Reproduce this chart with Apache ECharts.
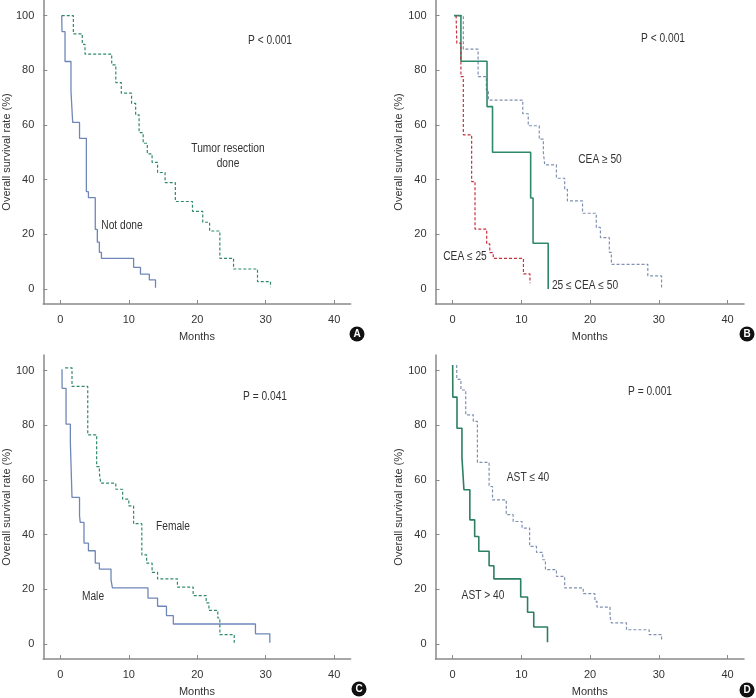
<!DOCTYPE html>
<html><head><meta charset="utf-8">
<script src="https://cdn.jsdelivr.net/npm/echarts@6/dist/echarts.min.js"></script>
<style>html,body{margin:0;padding:0;background:#fff}#c{width:756px;height:698px}</style>
</head><body><div id="c"></div><script>
// tick labels
const xTicks = [0, 10, 20, 30, 40];
const yTicks = [0, 20, 40, 60, 80, 100];
const xName = 'Months';
const yName = 'Overall survival rate (%)';

// Panel A
const notDoneT = [0.2, 0.24, 0.68, 1.55, 1.8, 2.8, 3.8, 4.1, 5.1, 5.4, 5.7, 6.0, 10.7, 11.7, 13.0, 13.9];
const notDoneS = [100, 94.1, 83.2, 72.4, 60.9, 55.1, 35.6, 33.4, 21.8, 17.1, 13.4, 11.2, 7.9, 5.4, 3.3, 0.4];
const doneT = [0.2, 1.9, 3.2, 3.6, 7.5, 8.1, 8.9, 10.4, 11.0, 11.5, 12.1, 12.7, 13.4, 14.2, 15.3, 16.8, 19.3, 20.8, 21.8, 23.3, 25.3, 28.8, 30.7];
const doneS = [100, 93.3, 89.5, 85.9, 82.0, 75.5, 71.6, 67.9, 63.7, 57.2, 53.3, 49.4, 46.3, 42.6, 38.9, 32.0, 28.4, 24.4, 21.2, 11.2, 7.3, 2.7, 0.6];

// Panel B
const ceaLowT = [0.5, 0.6, 1.2, 1.55, 2.76, 3.25, 4.95, 5.4, 5.9, 10.3, 11.25];
const ceaLowS = [100, 89.9, 77.7, 56.4, 39.3, 21.9, 16.5, 13.3, 11.2, 5.5, 2.1];
const ceaMidT = [0.2, 1.2, 5.0, 5.8, 11.35, 11.7, 13.9];
const ceaMidS = [100, 83.3, 66.7, 50.0, 33.3, 16.7, 0];
const ceaHighT = [0.2, 1.55, 3.7, 4.9, 5.2, 10.2, 11.0, 12.6, 13.2, 13.4, 15.1, 16.3, 16.7, 18.9, 20.9, 21.5, 22.8, 23.1, 28.4, 30.4];
const ceaHighS = [100, 87.7, 77.7, 72.8, 69.1, 64.1, 59.7, 54.8, 49.9, 45.4, 40.5, 36.4, 32.2, 27.7, 22.5, 18.8, 13.4, 9.0, 4.8, 0.3];

// Panel C
const maleT = [0.24, 0.26, 0.83, 1.46, 1.7, 2.8, 2.9, 3.45, 4.1, 5.1, 5.7, 7.4, 7.6, 12.8, 14.2, 15.5, 16.5, 28.5, 30.6];
const maleS = [100.5, 93.5, 80.4, 73.7, 53.6, 46.9, 44.5, 36.9, 34.1, 29.6, 27.4, 23.5, 20.5, 16.8, 13.8, 10.4, 7.3, 3.7, 0.4];
const femaleT = [0.7, 1.7, 4.0, 5.3, 5.7, 5.9, 8.1, 9.1, 10.0, 10.7, 11.9, 12.6, 13.4, 14.2, 17.1, 19.4, 21.3, 21.7, 23.0, 23.3, 25.4];
const femaleS = [101, 94.2, 76.5, 64.9, 62.5, 58.8, 56.6, 53.0, 50.5, 44.0, 32.6, 29.6, 26.2, 23.8, 20.8, 17.7, 15.0, 12.3, 9.5, 3.4, 0.4];

// Panel D
const astHighT = [0.0, 0.02, 0.63, 1.35, 1.64, 2.5, 3.2, 3.8, 5.3, 6.0, 9.9, 10.9, 11.8, 13.8];
const astHighS = [102, 90.3, 78.9, 68.2, 56.4, 45.4, 39.3, 33.9, 28.6, 23.8, 17.2, 11.6, 6.2, 0.6];
const astLowT = [0.58, 0.6, 1.2, 1.9, 3.0, 3.6, 5.3, 5.8, 7.8, 8.8, 10.1, 11.2, 12.2, 13.1, 13.5, 15.1, 16.3, 19.0, 20.7, 21.0, 22.9, 23.1, 25.3, 28.6, 30.4];
const astLowS = [102, 96.8, 92.9, 83.8, 81.4, 66.4, 57.6, 52.7, 47.3, 44.8, 42.4, 35.7, 33.5, 30.8, 27.2, 24.7, 20.5, 18.4, 15.6, 13.5, 10.1, 7.7, 5.2, 3.4, 1.0];

const FONT = '"Liberation Sans Narrow", "Liberation Sans", Arial, sans-serif';
const TXT = '#333333';
const AX = '#8a8a8a';

const grids = [
  {left: 42.1, top: 0, width: 308.5, height: 304},
  {left: 435.5, top: 0, width: 308.5, height: 304},
  {left: 42.1, top: 355, width: 308.5, height: 304.3},
  {left: 435.5, top: 355, width: 308.5, height: 304.3}
];

function xAx(i) {
  return {
    type: 'value', gridIndex: i, min: -2.5, max: 42.4,
    name: xName, nameLocation: 'middle', nameGap: 27,
    nameTextStyle: {color: TXT, fontFamily: FONT, fontSize: 11},
    axisLine: {onZero: false, lineStyle: {color: AX, width: 1.5}},
    axisTick: {inside: true, length: 4, customValues: xTicks, lineStyle: {color: AX, width: 1}},
    axisLabel: {customValues: xTicks, margin: 10, color: TXT, fontFamily: FONT, fontSize: 11},
    splitLine: {show: false}
  };
}
function yAx(i) {
  return {
    type: 'value', gridIndex: i, min: -5.5, max: 105.7,
    name: yName, nameLocation: 'middle', nameGap: 31,
    nameTextStyle: {color: TXT, fontFamily: FONT, fontSize: 11},
    axisLine: {onZero: false, lineStyle: {color: AX, width: 1.5}},
    axisTick: {inside: true, length: 4, customValues: yTicks, lineStyle: {color: AX, width: 1}},
    axisLabel: {customValues: yTicks, margin: 9, color: TXT, fontFamily: FONT, fontSize: 11},
    splitLine: {show: false}
  };
}
function km(T, S) { return T.map((t, k) => [t, S[k]]); }
function ser(i, T, S, color, dashed, width) {
  return {
    type: 'line', xAxisIndex: i, yAxisIndex: i, step: 'end', data: km(T, S),
    showSymbol: false, symbol: 'none', silent: true, animation: false,
    lineStyle: {color: color, width: width, type: dashed ? [3, 2] : 'solid'}
  };
}
const BLUE = '#6f87b8', GREEN = '#2f8a6a', RED = '#c8323f', GREY = '#7f90b0', DGREEN = '#2c7f60';

function label(text, x, y) {
  return {type: 'text', x: x, y: y, scaleX: 0.85, silent: true,
    style: {text: text, fill: TXT, font: '12px ' + FONT, align: 'center', verticalAlign: 'middle'}};
}
function badge(letter, x, y) {
  return [
    {type: 'circle', shape: {cx: x, cy: y, r: 7.5}, style: {fill: '#111'}, silent: true},
    {type: 'text', x: x, y: y + 0.5, silent: true,
     style: {text: letter, fill: '#fff', font: 'bold 10px "Liberation Sans", sans-serif', align: 'center', verticalAlign: 'middle'}}
  ];
}

const option = {
  animation: false,
  backgroundColor: '#ffffff',
  grid: grids,
  xAxis: [0, 1, 2, 3].map(xAx),
  yAxis: [0, 1, 2, 3].map(yAx),
  series: [
    ser(0, notDoneT, notDoneS, BLUE, false, 1.3),
    ser(0, doneT, doneS, GREEN, true, 1.2),
    ser(1, ceaHighT, ceaHighS, GREY, true, 1.2),
    ser(1, ceaMidT, ceaMidS, GREEN, false, 1.6),
    ser(1, ceaLowT, ceaLowS, RED, true, 1.2),
    ser(2, maleT, maleS, BLUE, false, 1.3),
    ser(2, femaleT, femaleS, GREEN, true, 1.2),
    ser(3, astLowT, astLowS, GREY, true, 1.2),
    ser(3, astHighT, astHighS, DGREEN, false, 1.6)
  ],
  graphic: [
    label('P < 0.001', 270, 41),
    label('Tumor resection', 228, 149),
    label('done', 228, 164),
    label('Not done', 122, 226),
    label('P < 0.001', 663, 39),
    label('CEA ≥ 50', 600, 160),
    label('CEA ≤ 25', 465, 257),
    label('25 ≤ CEA ≤ 50', 585, 286),
    label('P = 0.041', 265, 397),
    label('Female', 173, 527),
    label('Male', 93, 597),
    label('P = 0.001', 650, 392),
    label('AST ≤ 40', 528, 478),
    label('AST > 40', 483, 596)
  ].concat(badge('A', 357, 334), badge('B', 747, 334), badge('C', 359, 689), badge('D', 747, 690))
};
const chart = echarts.init(document.getElementById('c'), null, {renderer: 'canvas'});
chart.setOption(option);
</script></body></html>
